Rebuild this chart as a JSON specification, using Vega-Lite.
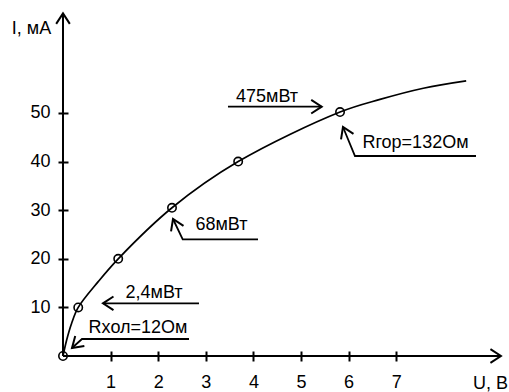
{
  "$schema": "https://vega.github.io/schema/vega-lite/v6.json",
  "width": 509,
  "height": 392,
  "autosize": "none",
  "padding": 0,
  "background": "white",
  "config": {"view": {"stroke": null}},
  "datasets": {
    "axes": [
      {"U": 0, "I": 0, "U2": 9.2, "I2": 0},
      {"U": 0, "I": 0, "U2": 0, "I2": 70.5}
    ],
    "curve": [
      {"U": 0, "I": 0},
      {"U": 0.077, "I": 3.3},
      {"U": 0.18, "I": 6.7},
      {"U": 0.32, "I": 10},
      {"U": 0.74, "I": 15.3},
      {"U": 1.16, "I": 20},
      {"U": 2.29, "I": 30.5},
      {"U": 3.68, "I": 40},
      {"U": 5.82, "I": 50.2},
      {"U": 6.66, "I": 52.8},
      {"U": 7.57, "I": 55.1},
      {"U": 8.47, "I": 56.6}
    ],
    "measured": [
      {"U": 0, "I": 0},
      {"U": 0.32, "I": 10},
      {"U": 1.16, "I": 20},
      {"U": 2.29, "I": 30.5},
      {"U": 3.68, "I": 40},
      {"U": 5.82, "I": 50.2}
    ],
    "leaders": [
      {"seg": "p24", "k": 0, "U": 0.84, "I": 10.84},
      {"seg": "p24", "k": 1, "U": 2.857, "I": 10.84},
      {"seg": "rhol", "k": 0, "U": 0.189, "I": 1.646},
      {"seg": "rhol", "k": 1, "U": 0.399, "I": 3.5},
      {"seg": "rhol", "k": 2, "U": 2.647, "I": 3.5},
      {"seg": "p68", "k": 0, "U": 2.311, "I": 28.19},
      {"seg": "p68", "k": 1, "U": 2.515, "I": 24.01},
      {"seg": "p68", "k": 2, "U": 4.097, "I": 24.01},
      {"seg": "p475", "k": 0, "U": 3.466, "I": 51.3},
      {"seg": "p475", "k": 1, "U": 5.435, "I": 51.3},
      {"seg": "rgor", "k": 0, "U": 5.882, "I": 47.12},
      {"seg": "rgor", "k": 1, "U": 6.134, "I": 41.15},
      {"seg": "rgor", "k": 2, "U": 8.676, "I": 41.15}
    ],
    "heads": [
      {"U": 9.2, "I": 0, "dir": "E"},
      {"U": 0, "I": 70.5, "dir": "N"},
      {"U": 0.84, "I": 10.84, "dir": "W"},
      {"U": 0.189, "I": 1.646, "dir": "SW"},
      {"U": 2.311, "I": 28.19, "dir": "NNW"},
      {"U": 5.435, "I": 51.3, "dir": "E"},
      {"U": 5.882, "I": 47.12, "dir": "NNW"}
    ],
    "notes": [
      {"U": 1.912, "I": 11.93, "text": "2,4мВт"},
      {"U": 1.576, "I": 4.73, "text": "Rхол=12Ом"},
      {"U": 3.33, "I": 25.93, "text": "68мВт"},
      {"U": 4.286, "I": 52.26, "text": "475мВт"},
      {"U": 7.405, "I": 42.8, "text": "Rгор=132Ом"}
    ]
  },
  "encoding": {
    "x": {
      "field": "U", "type": "quantitative",
      "scale": {"domain": [-1.3235, 9.3697], "nice": false, "zero": false},
      "axis": {
        "values": [1, 2, 3, 4, 5, 6, 7],
        "domain": false, "grid": false, "ticks": true,
        "offset": -41, "tickSize": 10, "tickWidth": 2, "tickColor": "black", "tickOpacity": 1,
        "labelPadding": 12, "labelFont": "Liberation Sans", "labelFontSize": 18, "labelColor": "black",
        "title": "U, В", "titleFont": "Liberation Sans", "titleFontSize": 18, "titleFontWeight": "normal",
        "titleColor": "black", "titleAngle": 0, "titleAlign": "center", "titleBaseline": "alphabetic",
        "titleX": 490, "titleY": 37, "zindex": 1
      }
    },
    "y": {
      "field": "I", "type": "quantitative",
      "scale": {"domain": [-7.407, 73.25], "nice": false, "zero": false},
      "axis": {
        "values": [10, 20, 30, 40, 50],
        "domain": false, "grid": false, "ticks": true,
        "offset": -68, "tickSize": 10, "tickWidth": 2, "tickColor": "black", "tickOpacity": 1,
        "labelPadding": 8, "labelFont": "Liberation Sans", "labelFontSize": 18, "labelColor": "black",
        "title": "I, мА", "titleFont": "Liberation Sans", "titleFontSize": 18, "titleFontWeight": "normal",
        "titleColor": "black", "titleAngle": 0, "titleAlign": "center", "titleBaseline": "alphabetic",
        "titleX": -37, "titleY": 33, "zindex": 1
      }
    }
  },
  "layer": [
    {
      "data": {"name": "axes"},
      "mark": {"type": "rule", "color": "black", "strokeWidth": 2},
      "encoding": {
        "x2": {"field": "U2"},
        "y2": {"field": "I2"}
      }
    },
    {
      "data": {"name": "curve"},
      "mark": {"type": "line", "color": "black", "strokeWidth": 1.7, "interpolate": "catmull-rom"},
      "encoding": {"order": {"field": "U", "type": "quantitative"}}
    },
    {
      "data": {"name": "leaders"},
      "mark": {"type": "line", "color": "black", "strokeWidth": 1.8},
      "encoding": {
        "detail": {"field": "seg", "type": "nominal"},
        "order": {"field": "k", "type": "quantitative"}
      }
    },
    {
      "data": {"name": "heads"},
      "transform": [{"filter": "datum.dir === 'E'"}],
      "mark": {"type": "point", "shape": "M-1,-0.65L0,0L-1,0.65", "filled": false, "color": "black", "strokeWidth": 2, "size": 440, "angle": 0, "opacity": 1}
    },
    {
      "data": {"name": "heads"},
      "transform": [{"filter": "datum.dir === 'N'"}],
      "mark": {"type": "point", "shape": "M-1,-0.65L0,0L-1,0.65", "filled": false, "color": "black", "strokeWidth": 2, "size": 440, "angle": 270, "opacity": 1}
    },
    {
      "data": {"name": "heads"},
      "transform": [{"filter": "datum.dir === 'W'"}],
      "mark": {"type": "point", "shape": "M-1,-0.65L0,0L-1,0.65", "filled": false, "color": "black", "strokeWidth": 2, "size": 440, "angle": 180, "opacity": 1}
    },
    {
      "data": {"name": "heads"},
      "transform": [{"filter": "datum.dir === 'SW'"}],
      "mark": {"type": "point", "shape": "M-1,-0.65L0,0L-1,0.65", "filled": false, "color": "black", "strokeWidth": 2, "size": 440, "angle": 138, "opacity": 1}
    },
    {
      "data": {"name": "heads"},
      "transform": [{"filter": "datum.dir === 'NNW'"}],
      "mark": {"type": "point", "shape": "M-1,-0.65L0,0L-1,0.65", "filled": false, "color": "black", "strokeWidth": 2, "size": 440, "angle": 246, "opacity": 1}
    },
    {
      "data": {"name": "measured"},
      "mark": {"type": "point", "shape": "circle", "filled": false, "color": "black", "strokeWidth": 1.6, "size": 70, "opacity": 1}
    },
    {
      "data": {"name": "notes"},
      "mark": {"type": "text", "font": "Liberation Sans", "fontSize": 18, "color": "black", "align": "center", "baseline": "alphabetic"},
      "encoding": {"text": {"field": "text", "type": "nominal"}}
    }
  ]
}
